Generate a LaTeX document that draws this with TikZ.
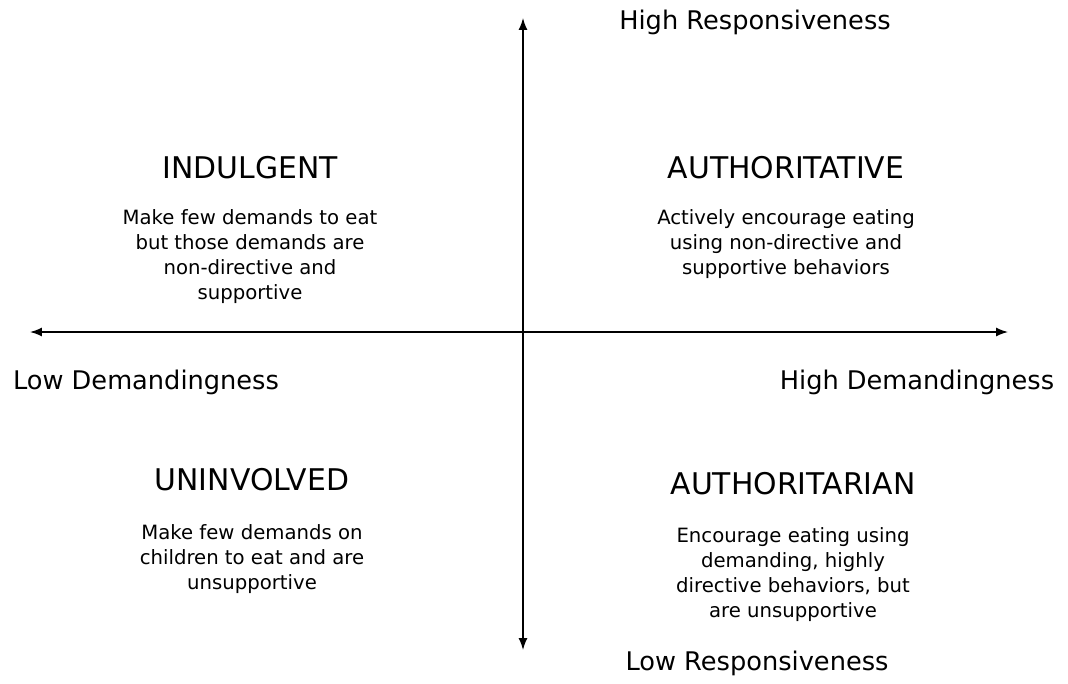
\documentclass[tikz,border=0pt]{standalone}
\usepackage{fontspec}
\setmainfont{DejaVu Sans}
\usetikzlibrary{arrows.meta}
\begin{document}
\begin{tikzpicture}[
    x=0.02cm, y=-0.02cm,
    axis/.style={{Latex[length=2.4mm,width=1.8mm]}-{Latex[length=2.4mm,width=1.8mm]}, thick},
    axislabel/.style={font=\fontsize{14.6}{17}\selectfont, inner sep=0pt},
    style title/.style={font=\fontsize{17}{20}\selectfont, inner sep=0pt},
    style text/.style={font=\fontsize{11.2}{14.2}\selectfont, align=center, inner sep=0pt, anchor=north},
  ]
    \useasboundingbox (0,0) rectangle (1068,683);
    % axes
    \coordinate (top) at (523,18);
    \coordinate (bottom) at (523,650);
    \coordinate (left) at (30,332);
    \coordinate (right) at (1008,332);
    \draw[axis] (bottom) -- (top);
    \draw[axis] (left) -- (right);
    % axis ends
    \node[axislabel] (highresp) at (755,22) {High Responsiveness};
    \node[axislabel] (lowresp) at (757,663) {Low Responsiveness};
    \node[axislabel] (lowdem) at (146,382) {Low Demandingness};
    \node[axislabel] (highdem) at (917,382) {High Demandingness};
    % quadrants
    \node[style title] (indulgent) at (250,168) {INDULGENT};
    \node[style text] (indulgenttext) at (250,209)
      {Make few demands to eat\\ but those demands are\\ non-directive and\\ supportive};
    \node[style title] (authoritative) at (786,168) {AUTHORITATIVE};
    \node[style text] (authoritativetext) at (786,209)
      {Actively encourage eating\\ using non-directive and\\ supportive behaviors};
    \node[style title] (uninvolved) at (252,480) {UNINVOLVED};
    \node[style text] (uninvolvedtext) at (252,524)
      {Make few demands on\\ children to eat and are\\ unsupportive};
    \node[style title] (authoritarian) at (793,484) {AUTHORITARIAN};
    \node[style text] (authoritariantext) at (793,527)
      {Encourage eating using\\ demanding, highly\\ directive behaviors, but\\ are unsupportive};
\end{tikzpicture}
\end{document}
